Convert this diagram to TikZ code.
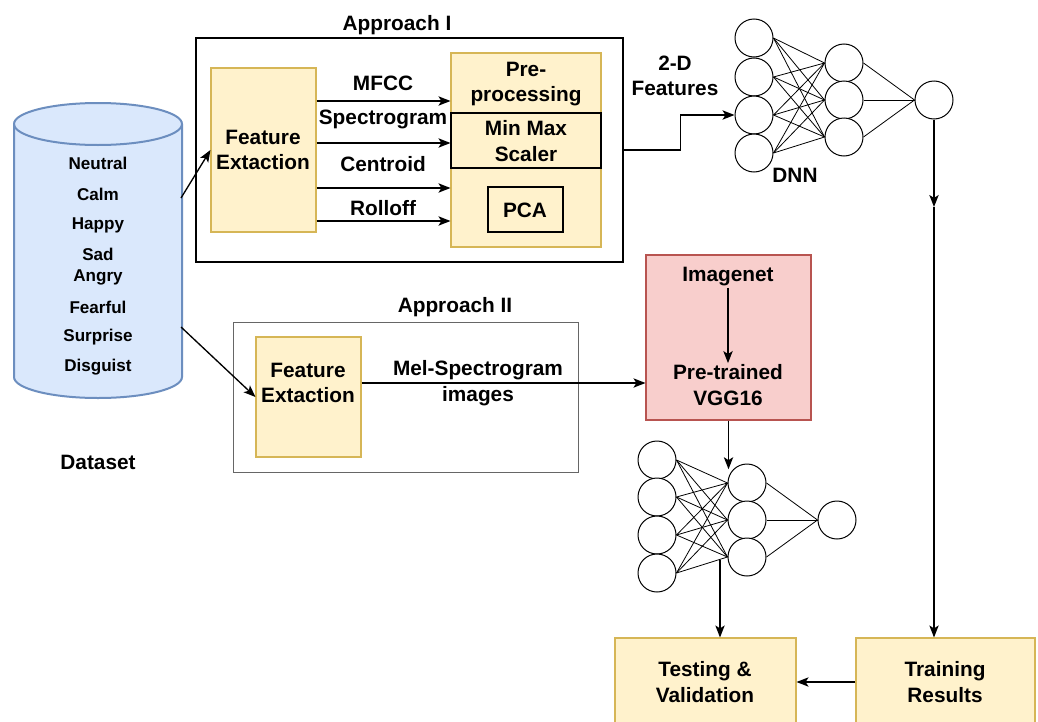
\documentclass[tikz,border=0pt]{standalone}
\usepackage{fontspec}
\setmainfont{Liberation Sans}
\usetikzlibrary{positioning,fit,arrows.meta}

\definecolor{yfill}{HTML}{FFF2CC}
\definecolor{yline}{HTML}{D6B656}
\definecolor{pfill}{HTML}{F8CECC}
\definecolor{pline}{HTML}{B85450}
\definecolor{cfill}{HTML}{DAE8FC}
\definecolor{cline}{HTML}{6C8EBF}
\definecolor{gline}{HTML}{666666}

\begin{document}
\begin{tikzpicture}[x=0.75pt, y=-0.75pt,
txt/.style={font=\bfseries\fontsize{15.6}{19}\selectfont, align=center, inner sep=1pt},
smalltxt/.style={font=\bfseries\fontsize{12.8}{14}\selectfont, inner sep=1pt},
ybox/.style={rectangle, draw=yline, fill=yfill, line width=0.8pt, inner sep=0pt, align=center},
pbox/.style={rectangle, draw=pline, fill=pfill, line width=0.8pt, inner sep=0pt},
frame/.style={rectangle, draw=black, line width=1pt, inner sep=0pt},
neuron/.style={circle, draw=black, fill=white, line width=0.75pt, minimum size=28.5pt, inner sep=0pt},
arr/.style={-{Stealth[length=9pt,width=7pt,inset=2.2pt]}, line width=1pt},
link/.style={line width=0.6pt},
]
\clip (0,0) rectangle (1038,721);
\fill[white] (0,0) rectangle (1038,721);

%Dataset cylinder
\filldraw[fill=cfill, draw=cline, line width=1.5pt]
  (14,124) -- (14,377) arc[start angle=180, end angle=360, x radius=63pt, y radius=15.75pt]
  -- (182,124) arc[start angle=0, end angle=180, x radius=63pt, y radius=15.75pt] -- cycle;
\draw[cline, line width=1.5pt] (14,124) arc[start angle=180, end angle=360, x radius=63pt, y radius=15.75pt];
\foreach \emo/\yy in {Neutral/163, Calm/194, Happy/225, Sad/254, Angry/277, Fearful/307, Surprise/337, Disguist/367}
  \node[smalltxt] (emo\yy) at (98,\yy) {\emo};
\node[txt] (dataset) at (98,462) {Dataset};
\coordinate (cylA) at (181,198);
\coordinate (cylB) at (181,327);

%Approach I
\node[frame, fit={(196,38) (623,262)}] (apprI) {};
\node[txt] (apprIlbl) at (397,25) {Approach I};
\node[ybox, fit={(211,68) (316,232)}] (fe1) {};
\node[txt] (fe1t) at (263,150) {Feature\\Extaction};
\node[ybox, fit={(451,53) (601,247)}] (pp) {};
\node[txt] (ppt) at (526,84) {Pre-\\processing};
\node[ybox, draw=black, fit={(451,113) (601,168)}] (mms) {};
\node[txt] (mmst) at (526,141) {Min Max\\Scaler};
\node[ybox, draw=black, fit={(488,187) (563,232)}] (pca) {};
\node[txt] (pcat) at (525,210) {PCA};
\foreach \feat/\yy/\ly [count=\i] in {MFCC/101/83, Spectrogram/143/119, Centroid/188/164, Rolloff/221/208}{
  \node[txt] (feat\i) at (383,\ly) {\feat};
  \draw[arr] (fe1.east |- 0,\yy) -- (pp.west |- 0,\yy);
}

%Approach II
\node[frame, draw=gline, line width=0.75pt, fit={(233,322) (578,472)}] (apprII) {};
\node[txt] (apprIIlbl) at (455,307) {Approach II};
\node[ybox, fit={(256,337) (361,457)}] (fe2) {};
\node[txt] (fe2t) at (308,383) {Feature\\Extaction};
\node[txt] (mel) at (478,383) {Mel-Spectrogram\\images};

%VGG16
\node[pbox, fit={(646,255) (811,420)}] (vgg) {};
\node[txt] (imgnet) at (728,277) {Imagenet};
\node[txt] (pretr) at (728,385) {Pre-trained\\VGG16};

%Top DNN
\foreach \yy [count=\i] in {38,77,115,153}
  \node[neuron] (t\i) at (754,\yy) {};
\foreach \yy [count=\i] in {63,100,137}
  \node[neuron] (th\i) at (844,\yy) {};
\node[neuron] (tout) at (934,100) {};
\foreach \i in {1,...,4}
  \foreach \j in {1,2,3}
    \draw[link] (t\i.east) -- (th\j.west);
\foreach \j in {1,2,3}
  \draw[link] (th\j.east) -- (tout.west);
\node[txt] (dnn) at (795,175) {DNN};
\node[txt] (feat2d) at (675,76) {2-D\\Features};

%Bottom DNN
\foreach \yy [count=\i] in {460,497,535,573}
  \node[neuron] (b\i) at (657,\yy) {};
\foreach \yy [count=\i] in {483,520,557}
  \node[neuron] (bh\i) at (747,\yy) {};
\node[neuron] (bout) at (837,520) {};
\foreach \i in {1,...,4}
  \foreach \j in {1,2,3}
    \draw[link] (b\i.east) -- (bh\j.west);
\foreach \j in {1,2,3}
  \draw[link] (bh\j.east) -- (bout.west);
\coordinate (bnn) at (720,560);

%Results
\node[ybox, fit={(615,638) (796,726)}] (test) {};
\node[txt] (testt) at (705,682) {Testing \&\\Validation};
\node[ybox, fit={(856,638) (1035,726)}] (train) {};
\node[txt] (traint) at (945,682) {Training\\Results};
\coordinate (tmid) at (934,207);

%Arrows
\draw[arr] (cylA) -- (fe1.west);
\draw[arr] (cylB) -- (fe2.west);
\draw[arr] (apprI.east) -- ++(57,0) |- (t3.west);
\draw[arr] (fe2.east |- fe2t) -- (vgg.west |- fe2t);
\draw[arr] (imgnet.south) -- (pretr.north);
\draw[arr] (vgg.south) -- (vgg.south |- bh1.north west);
\draw[arr] (tout.south) -- (tmid);
\draw[arr] (tmid) -- (tmid |- train.north);
\draw[arr] (bnn) -- (bnn |- test.north);
\draw[arr] (train.west) -- (test.east);
\end{tikzpicture}
\end{document}
